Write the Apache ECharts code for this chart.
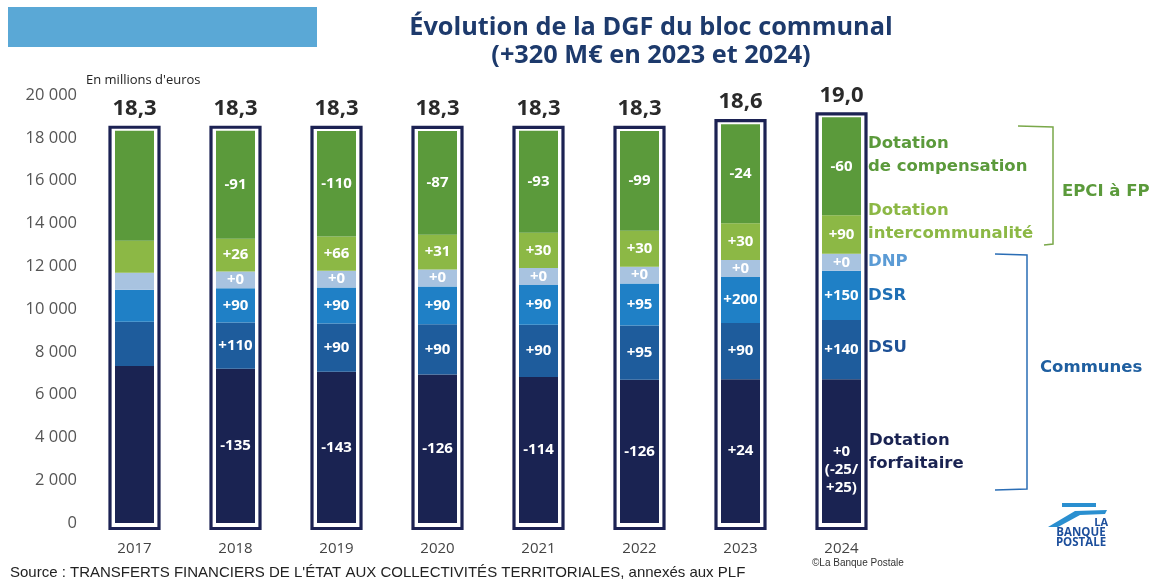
<!DOCTYPE html>
<html>
<head>
<meta charset="utf-8">
<script src="https://cdn.jsdelivr.net/npm/echarts@6/dist/echarts.min.js"></script>
<style>
  html, body { margin: 0; padding: 0; background: #fff; }
  #chart { width: 1165px; height: 582px; }
</style>
</head>
<body>
<div id="chart"></div>
<script>
// années et montants (M€)
const years = ['2017', '2018', '2019', '2020', '2021', '2022', '2023', '2024'];
const totalLabels = ['18,3', '18,3', '18,3', '18,3', '18,3', '18,3', '18,6', '19,0'];

const forfaitaire = [7340, 7205, 7062, 6936, 6822, 6696, 6720, 6720];
const dsu = [2060, 2170, 2260, 2350, 2440, 2535, 2625, 2765];
const dsr = [1500, 1590, 1680, 1770, 1860, 1955, 2155, 2305];
const dnp = [790, 790, 790, 790, 790, 790, 790, 790];
const intercommunalite = [1500, 1526, 1592, 1623, 1653, 1683, 1713, 1803];
const compensation = [5140, 5049, 4939, 4852, 4759, 4660, 4636, 4576];

// variations affichées dans les barres
const forfaitaireLabels = ['', '-135', '-143', '-126', '-114', '-126', '+24', '+0\n(-25/\n+25)'];
const dsuLabels = ['', '+110', '+90', '+90', '+90', '+95', '+90', '+140'];
const dsrLabels = ['', '+90', '+90', '+90', '+90', '+95', '+200', '+150'];
const dnpLabels = ['', '+0', '+0', '+0', '+0', '+0', '+0', '+0'];
const interLabels = ['', '+26', '+66', '+31', '+30', '+30', '+30', '+90'];
const compLabels = ['', '-91', '-110', '-87', '-93', '-99', '-24', '-60'];

const FONT = '"Open Sans", "DejaVu Sans", sans-serif';
const SIDE_FONT = 'bold 16.5px "DejaVu Sans", sans-serif';

const stackTotal = years.map((y, i) =>
  forfaitaire[i] + dsu[i] + dsr[i] + dnp[i] + intercommunalite[i] + compensation[i]);

function barSeries(name, values, labels, color) {
  return {
    name: name,
    type: 'bar',
    stack: 'dgf',
    barWidth: 39,
    // les libellés sur plusieurs lignes sont décalés vers le bas
    data: values.map((v, i) => labels[i].indexOf('\n') >= 0
      ? { value: v, label: { offset: [0, 19] } }
      : v),
    itemStyle: { color: color },
    label: {
      show: true,
      position: 'inside',
      color: '#fff',
      fontFamily: FONT,
      fontWeight: 'bold',
      fontSize: 15,
      lineHeight: 18,
      formatter: p => labels[p.dataIndex]
    }
  };
}

const chart = echarts.init(document.getElementById('chart'));

const option = {
  animation: false,
  backgroundColor: '#fff',
  grid: { left: 84, right: 273, top: 95, bottom: 59 },
  xAxis: {
    type: 'category',
    data: years,
    axisLine: { show: false },
    axisTick: { show: false },
    axisLabel: { color: '#444', fontFamily: FONT, fontSize: 15, margin: 18 }
  },
  yAxis: {
    type: 'value',
    min: 0,
    max: 20000,
    interval: 2000,
    axisLine: { show: false },
    axisTick: { show: false },
    splitLine: { show: false },
    axisLabel: {
      color: '#555',
      fontFamily: FONT,
      fontSize: 16.5,
      margin: 7,
      formatter: v => String(v).replace(/\B(?=(\d{3})+(?!\d))/g, ' ')
    }
  },
  series: [
    barSeries('Dotation forfaitaire', forfaitaire, forfaitaireLabels, '#1a2352'),
    barSeries('DSU', dsu, dsuLabels, '#1e5c9c'),
    barSeries('DSR', dsr, dsrLabels, '#1f80c6'),
    barSeries('DNP', dnp, dnpLabels, '#a8c3e0'),
    barSeries('Dotation intercommunalité', intercommunalite, interLabels, '#8cb845'),
    barSeries('Dotation de compensation', compensation, compLabels, '#5b9a3b'),
    {
      type: 'custom',
      z: 5,
      data: years.map((y, i) => [i, stackTotal[i]]),
      renderItem: function (params, api) {
        const i = params.dataIndex;
        const top = api.coord([i, api.value(1)]);
        const base = api.coord([i, 0]);
        return {
          type: 'group',
          children: [
            {
              type: 'rect',
              shape: { x: top[0] - 24.5, y: top[1] - 3.5, width: 49, height: base[1] + 5.5 - (top[1] - 3.5) },
              style: { fill: 'none', stroke: '#1c2253', lineWidth: 3.2 }
            },
            {
              type: 'text',
              x: top[0],
              y: top[1] - 22,
              style: {
                text: totalLabels[i],
                textAlign: 'center',
                textVerticalAlign: 'middle',
                font: 'bold 22px ' + FONT,
                fill: '#2a2a2a'
              }
            }
          ]
        };
      }
    }
  ],
  graphic: [
    { type: 'rect', left: 8, top: 7, shape: { width: 309, height: 40 }, style: { fill: '#5aa8d6' } },
    {
      type: 'text', x: 651, y: 28,
      style: { text: 'Évolution de la DGF du bloc communal', textAlign: 'center', textVerticalAlign: 'middle',
        font: 'bold 25.3px ' + FONT, fill: '#1d3a6c' }
    },
    {
      type: 'text', x: 651, y: 56,
      style: { text: '(+320 M€ en 2023 et 2024)', textAlign: 'center', textVerticalAlign: 'middle',
        font: 'bold 25.3px ' + FONT, fill: '#1d3a6c' }
    },
    {
      type: 'text', x: 86, y: 80,
      style: { text: "En millions d'euros", textVerticalAlign: 'middle', font: '13px ' + FONT, fill: '#222' }
    },
    // libellés à droite
    {
      type: 'text', x: 868, y: 155,
      style: { text: 'Dotation\nde compensation', textVerticalAlign: 'middle', lineHeight: 23,
        font: SIDE_FONT, fill: '#5b9a3b' }
    },
    {
      type: 'text', x: 868, y: 222,
      style: { text: 'Dotation\nintercommunalité', textVerticalAlign: 'middle', lineHeight: 23,
        font: SIDE_FONT, fill: '#8cb845' }
    },
    {
      type: 'text', x: 868, y: 262,
      style: { text: 'DNP', textVerticalAlign: 'middle', font: SIDE_FONT, fill: '#5b9bd5' }
    },
    {
      type: 'text', x: 868, y: 296,
      style: { text: 'DSR', textVerticalAlign: 'middle', font: SIDE_FONT, fill: '#1f6fb5' }
    },
    {
      type: 'text', x: 868, y: 348,
      style: { text: 'DSU', textVerticalAlign: 'middle', font: SIDE_FONT, fill: '#1e5196' }
    },
    {
      type: 'text', x: 869, y: 452,
      style: { text: 'Dotation\nforfaitaire', textVerticalAlign: 'middle', lineHeight: 23,
        font: SIDE_FONT, fill: '#1a2352' }
    },
    {
      type: 'text', x: 1062, y: 192,
      style: { text: 'EPCI à FP', textVerticalAlign: 'middle', font: SIDE_FONT, fill: '#5b9a3b' }
    },
    {
      type: 'text', x: 1040, y: 368,
      style: { text: 'Communes', textVerticalAlign: 'middle', font: SIDE_FONT, fill: '#1f5fa0' }
    },
    // accolades
    {
      type: 'polyline',
      shape: { points: [[1018, 126], [1053, 127], [1053, 244], [1044, 245]] },
      style: { stroke: '#7aa84a', lineWidth: 1.5, fill: 'none' }
    },
    {
      type: 'polyline',
      shape: { points: [[995, 254], [1027, 255], [1027, 489], [995, 490]] },
      style: { stroke: '#2a6db5', lineWidth: 1.5, fill: 'none' }
    },
    // logo
    {
      type: 'polygon',
      shape: { points: [[1062, 503], [1096, 503], [1096, 507], [1062, 507]] },
      style: { fill: '#2a8fd0' }
    },
    {
      type: 'polygon',
      shape: { points: [[1048, 527], [1075, 511], [1107, 510], [1105, 514], [1080, 515], [1058, 527]] },
      style: { fill: '#2a8fd0' }
    },
    {
      type: 'text', x: 1108, y: 523,
      style: { text: 'LA', textAlign: 'right', textVerticalAlign: 'middle', font: 'bold 11px ' + FONT, fill: '#1d4f9c' }
    },
    {
      type: 'text', x: 1081, y: 533,
      style: { text: 'BANQUE', textAlign: 'center', textVerticalAlign: 'middle', font: 'bold 11.5px ' + FONT, fill: '#1d4f9c' }
    },
    {
      type: 'text', x: 1081, y: 543,
      style: { text: 'POSTALE', textAlign: 'center', textVerticalAlign: 'middle', font: 'bold 11.5px ' + FONT, fill: '#1d4f9c' }
    },
    {
      type: 'text', x: 812, y: 563,
      style: { text: '©La Banque Postale', textVerticalAlign: 'middle', font: '10px "Liberation Sans Narrow", "Liberation Sans", sans-serif', fill: '#333' }
    },
    {
      type: 'text', x: 10, y: 573,
      style: { text: "Source : TRANSFERTS FINANCIERS DE L'ÉTAT AUX COLLECTIVITÉS TERRITORIALES, annexés aux PLF",
        textVerticalAlign: 'middle', font: '15px "Liberation Sans Narrow", "Liberation Sans", sans-serif', fill: '#222' }
    }
  ]
};

chart.setOption(option);
</script>
</body>
</html>
